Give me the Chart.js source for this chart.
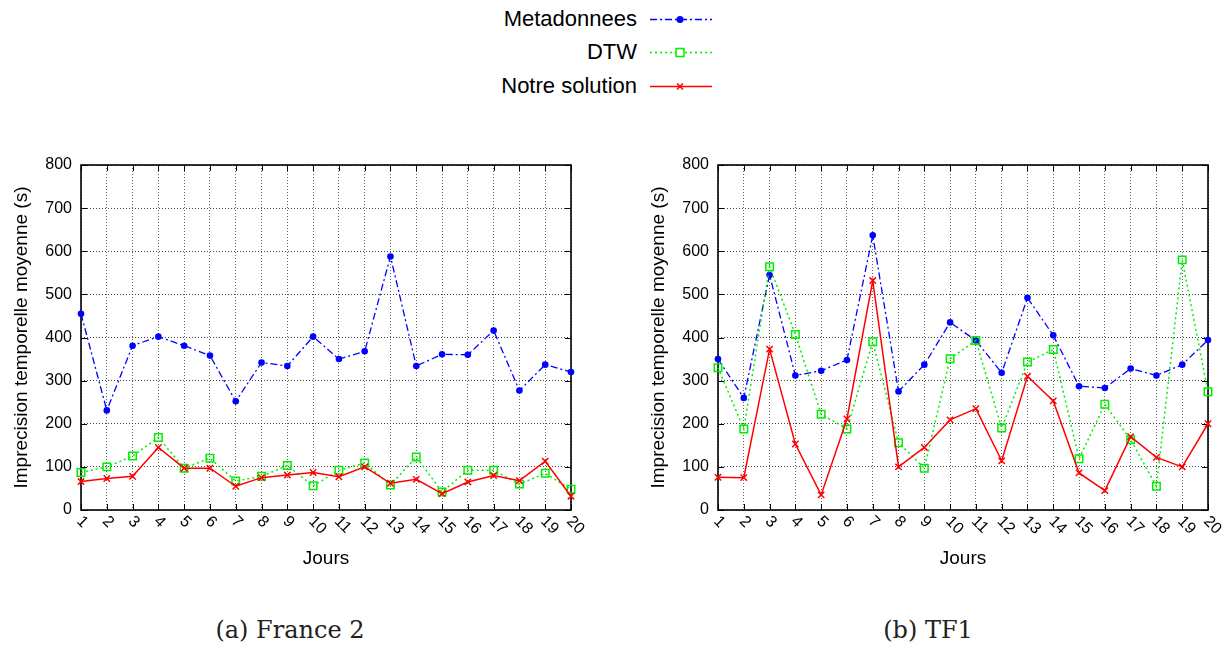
<!DOCTYPE html>
<html>
<head>
<meta charset="utf-8">
<script src="https://cdn.jsdelivr.net/npm/chart.js@4.4.1/dist/chart.umd.min.js"></script>
<style>
  html, body { margin: 0; padding: 0; background: #fff; }
  body { width: 1226px; height: 651px; position: relative; overflow: hidden; font-family: "Liberation Sans", Arial, sans-serif; }
  .cv { position: absolute; }
  .leg { position: absolute; font-size: 22px; color: #000; text-align: right; width: 400px; left: 237px; line-height: 26px; }
  .legs { position: absolute; left: 648px; }
  .cap { position: absolute; font-family: "DejaVu Serif", serif; font-size: 24px; color: #222; width: 400px; text-align: center; top: 616px; }
</style>
</head>
<body>
<div class="leg" style="top:6px">Metadonnees</div>
<div class="leg" style="top:39px">DTW</div>
<div class="leg" style="top:73px">Notre solution</div>
<canvas class="legs" id="leg0" width="66" height="20" style="top:9px"></canvas>
<canvas class="legs" id="leg1" width="66" height="20" style="top:42px"></canvas>
<canvas class="legs" id="leg2" width="66" height="20" style="top:76px"></canvas>

<canvas class="cv" id="chartA" width="613" height="440" style="left:0;top:140px"></canvas>
<canvas class="cv" id="chartB" width="589" height="440" style="left:637px;top:140px"></canvas>

<div class="cap" style="left:90px">(a) France 2</div>
<div class="cap" style="left:728px">(b) TF1</div>

<script>
// jours
const jours = ['1','2','3','4','5','6','7','8','9','10','11','12','13','14','15','16','17','18','19','20'];
const yTicks = [0, 100, 200, 300, 400, 500, 600, 700, 800];

// (a) France 2
const metaF2  = [455, 231, 381, 402, 381, 358, 252, 342, 334, 402, 350, 368, 588, 334, 361, 360, 416, 277, 337, 320];
const dtwF2   = [ 87, 100, 125, 168,  97, 120,  67,  78, 103,  56,  92, 109,  58, 123,  42,  92,  92,  60,  85,  48];
const notreF2 = [ 66,  73,  78, 145,  97,  97,  55,  75,  81,  87,  77, 100,  62,  71,  38,  65,  80,  68, 113,  32];

// (b) TF1
const metaTF1  = [350, 260, 545, 312, 323, 348, 637, 275, 337, 435, 393, 318, 492, 405, 287, 283, 328, 312, 337, 394];
const dtwTF1   = [330, 188, 564, 407, 222, 188, 390, 156,  97, 351, 393, 190, 343, 372, 119, 245, 163,  55, 580, 274];
const notreTF1 = [ 76,  75, 373, 153,  35, 211, 532, 100, 145, 209, 235, 114, 310, 253,  86,  45, 170, 122, 100, 200];

const BLUE = '#0000ff';
const GREEN = '#00ee00';
const RED = '#ff0000';

// cadre + petites graduations + etiquettes x tournees
const framePlugin = {
  id: 'frame',
  beforeDatasetsDraw(chart) {
    const { ctx, chartArea: a, scales } = chart;
    ctx.save();
    ctx.strokeStyle = '#000';
    ctx.lineWidth = 1;
    ctx.beginPath();
    yTicks.forEach(v => {
      const y = Math.round(scales.y.getPixelForValue(v)) + 0.5;
      ctx.moveTo(a.left, y); ctx.lineTo(a.left + 6, y);
      ctx.moveTo(a.right, y); ctx.lineTo(a.right - 6, y);
    });
    jours.forEach((j, i) => {
      const x = Math.round(scales.x.getPixelForValue(i)) + 0.5;
      ctx.moveTo(x, a.bottom); ctx.lineTo(x, a.bottom - 6);
      ctx.moveTo(x, a.top); ctx.lineTo(x, a.top + 6);
    });
    ctx.stroke();
    ctx.lineWidth = 1.6;
    ctx.strokeRect(a.left, a.top, a.right - a.left, a.bottom - a.top);
    ctx.restore();
  },
  afterDraw(chart) {
    const { ctx, chartArea: a, scales } = chart;
    ctx.save();
    ctx.fillStyle = '#000';
    ctx.font = '16px "Liberation Sans", Arial, sans-serif';
    ctx.textAlign = 'left';
    ctx.textBaseline = 'middle';
    jours.forEach((j, i) => {
      const x = scales.x.getPixelForValue(i);
      ctx.save();
      ctx.translate(x - 2, a.bottom + 9);
      ctx.rotate(Math.PI / 4);
      ctx.fillText(j, 0, 0);
      ctx.restore();
    });
    ctx.restore();
  }
};

function makeChart(id, meta, dtw, notre, padRight) {
  return new Chart(document.getElementById(id), {
    type: 'line',
    data: {
      labels: jours,
      datasets: [
        {
          label: 'Metadonnees', data: meta, order: 2,
          borderColor: BLUE, borderWidth: 1.3, borderDash: [7, 3, 2, 3],
          pointStyle: 'circle', pointRadius: 3.3, pointBackgroundColor: BLUE, pointBorderColor: BLUE, pointBorderWidth: 0,
          tension: 0, clip: false
        },
        {
          label: 'DTW', data: dtw, order: 1,
          borderColor: GREEN, borderWidth: 1.5, borderDash: [2, 3],
          pointStyle: 'rect', pointRadius: 5.3, pointBackgroundColor: 'rgba(0,0,0,0)', pointBorderColor: GREEN, pointBorderWidth: 1.5,
          tension: 0, clip: false
        },
        {
          label: 'Notre solution', data: notre, order: 0,
          borderColor: RED, borderWidth: 1.5,
          pointStyle: 'crossRot', pointRadius: 4.5, pointBorderColor: RED, pointBorderWidth: 1.5,
          tension: 0, clip: false
        }
      ]
    },
    options: {
      responsive: false,
      animation: false,
      events: [],
      layout: { padding: { top: 25, right: padRight, left: 0, bottom: 0 } },
      plugins: { legend: { display: false }, tooltip: { enabled: false } },
      scales: {
        x: {
          type: 'category',
          offset: false,
          afterFit(s) { s.height = 70; },
          ticks: { display: false },
          grid: { color: '#666', lineWidth: 1, drawTicks: false },
          border: { display: false, dash: [1, 2] },
          title: {
            display: true, text: 'Jours', color: '#000',
            font: { family: '"Liberation Sans", Arial, sans-serif', size: 19 },
            padding: { top: 0, bottom: 10 }
          }
        },
        y: {
          min: 0, max: 800,
          afterFit(s) { s.width = 81; },
          afterBuildTicks(s) { s.ticks = yTicks.map(v => ({ value: v })); },
          ticks: {
            color: '#000', padding: 9,
            font: { family: '"Liberation Sans", Arial, sans-serif', size: 16 }
          },
          grid: { color: '#444', lineWidth: 1, drawTicks: false },
          border: { display: false, dash: [1, 2] },
          title: {
            display: true, text: 'Imprecision temporelle moyenne (s)', color: '#000',
            font: { family: '"Liberation Sans", Arial, sans-serif', size: 19 },
            padding: { top: 10, bottom: 0 }
          }
        }
      }
    },
    plugins: [framePlugin]
  });
}

makeChart('chartA', metaF2, dtwF2, notreF2, 42);
makeChart('chartB', metaTF1, dtwTF1, notreTF1, 18);

// echantillons de legende
function legendSample(id, color, dash, width, marker) {
  const c = document.getElementById(id).getContext('2d');
  c.strokeStyle = color; c.fillStyle = color; c.lineWidth = width;
  c.setLineDash(dash);
  c.beginPath(); c.moveTo(2, 10.5); c.lineTo(64, 10.5); c.stroke();
  c.setLineDash([]);
  c.lineWidth = 1.5;
  if (marker === 'circle') {
    c.beginPath(); c.arc(32, 10.5, 3.5, 0, 2 * Math.PI); c.fill();
  } else if (marker === 'rect') {
    c.fillStyle = '#fff'; c.fillRect(28, 6.5, 8, 8);
    c.strokeRect(28, 6.5, 8, 8);
  } else {
    c.beginPath(); c.moveTo(29, 7.5); c.lineTo(35, 13.5); c.moveTo(35, 7.5); c.lineTo(29, 13.5); c.stroke();
  }
}
legendSample('leg0', BLUE, [7, 3, 2, 3], 1.3, 'circle');
legendSample('leg1', GREEN, [2, 3], 1.5, 'rect');
legendSample('leg2', RED, [], 1.5, 'cross');
</script>
</body>
</html>
